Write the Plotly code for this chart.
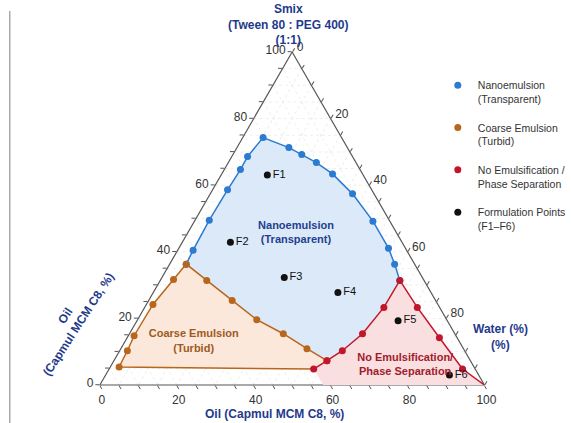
import plotly.graph_objects as go

# Components: a = Smix, b = Oil, c = Water  (all in %)
# Nanoemulsion boundary: from coarse-region apex, over the top, to phase-separation apex
nano_edge_a = [36.3, 40.5, 49.5, 58.6, 64.7, 68.6, 74.3, 71.3, 69.2, 66.8, 63.4, 57.4, 49.2, 41.1, 36.3, 31.4]
nano_edge_b = [59.4, 55.5, 46.8, 37.5, 31.1, 27.3, 20.4, 15.2, 12.9, 10.3, 7.8, 5.6, 4.4, 4.4, 5.2, 6.3]
nano_edge_c = [4.3, 4.0, 3.7, 3.9, 4.2, 4.1, 5.3, 13.5, 17.9, 22.9, 28.8, 37.0, 46.4, 54.5, 58.5, 62.3]

# Coarse emulsion: left side (apex -> bottom-left corner)
coarse_left_a = [36.3, 31.7, 24.2, 14.8, 10.3, 5.4]
coarse_left_b = [59.4, 65.0, 74.1, 83.7, 87.7, 92.3]
coarse_left_c = [4.3, 3.3, 1.7, 1.5, 2.0, 2.3]

# Coarse emulsion: upper side (apex -> junction with phase-separation region)
coarse_upper_a = [36.3, 31.4, 25.4, 19.6, 15.4, 10.9, 7.3]
coarse_upper_b = [59.4, 56.5, 52.9, 49.4, 44.6, 40.7, 37.3]
coarse_upper_c = [4.3, 12.1, 21.7, 31.0, 40.0, 48.4, 55.4]

# Phase separation: left side (bottom corner -> junction -> apex)
sep_left_a = [4.8, 7.3, 10.3, 15.4, 23.3, 31.4]
sep_left_b = [42.0, 37.3, 31.8, 24.0, 14.5, 6.3]
sep_left_c = [53.2, 55.4, 57.9, 60.6, 62.2, 62.3]

# Phase separation: right side (apex -> water vertex)
sep_right_a = [31.4, 23.3, 14.2, 4.8, 0.0]
sep_right_b = [6.3, 5.8, 4.6, 3.3, 0.0]
sep_right_c = [62.3, 70.9, 81.2, 91.9, 100.0]

# Phase separation: point on the base
sep_base_a = [0.0]
sep_base_b = [41.9]
sep_base_c = [58.1]

# Formulation points
form_names = ["F1", "F2", "F3", "F4", "F5", "F6"]
form_a = [63.1, 42.9, 32.3, 27.8, 19.3, 3.0]
form_b = [24.9, 44.6, 35.9, 24.2, 12.8, 7.6]
form_c = [12.0, 12.5, 31.8, 48.0, 67.9, 89.4]

# Region labels
region_names = ["Nanoemulsion<br>(Transparent)", "Coarse Emulsion<br>(Turbid)",
                "No Emulsification/<br>Phase Separation"]
region_a = [45.6, 13.0, 6.0]
region_b = [26.2, 69.1, 17.6]
region_c = [28.2, 17.9, 76.4]

legend_names = ["Nanoemulsion<br>(Transparent)", "Coarse Emulsion<br>(Turbid)",
                "No Emulsification /<br>Phase Separation", "Formulation Points<br>(F1\u2013F6)"]

tick_vals = list(range(0, 101, 5))
tick_text = [str(v) if v % 20 == 0 else "" for v in tick_vals]

BLUE, ORANGE, RED = "#2a7bd1", "#b8661c", "#c3152c"
FONT = "Liberation Sans, Arial, sans-serif"


def rev(x):
    return list(reversed(x))


fig = go.Figure()

# --- fills ---
fig.add_trace(go.Scatterternary(
    a=nano_edge_a + rev(sep_left_a)[1:5] + rev(coarse_upper_a)[1:],
    b=nano_edge_b + rev(sep_left_b)[1:5] + rev(coarse_upper_b)[1:],
    c=nano_edge_c + rev(sep_left_c)[1:5] + rev(coarse_upper_c)[1:],
    mode="lines", fill="toself", fillcolor="#dce9f8", line=dict(width=0),
    showlegend=False, hoverinfo="skip"))
fig.add_trace(go.Scatterternary(
    a=coarse_left_a + sep_left_a[:1] + rev(coarse_upper_a),
    b=coarse_left_b + sep_left_b[:1] + rev(coarse_upper_b),
    c=coarse_left_c + sep_left_c[:1] + rev(coarse_upper_c),
    mode="lines", fill="toself", fillcolor="#fce8da", line=dict(width=0),
    showlegend=False, hoverinfo="skip"))
fig.add_trace(go.Scatterternary(
    a=sep_left_a + sep_right_a[1:] + sep_base_a,
    b=sep_left_b + sep_right_b[1:] + sep_base_b,
    c=sep_left_c + sep_right_c[1:] + sep_base_c,
    mode="lines", fill="toself", fillcolor="#f9dfe0", line=dict(width=0),
    showlegend=False, hoverinfo="skip"))

# --- boundary lines ---
fig.add_trace(go.Scatterternary(
    a=nano_edge_a, b=nano_edge_b, c=nano_edge_c, mode="lines",
    line=dict(color=BLUE, width=1.5), showlegend=False, hoverinfo="skip"))
fig.add_trace(go.Scatterternary(
    a=rev(coarse_upper_a) + coarse_left_a[1:] + sep_left_a[:1],
    b=rev(coarse_upper_b) + coarse_left_b[1:] + sep_left_b[:1],
    c=rev(coarse_upper_c) + coarse_left_c[1:] + sep_left_c[:1],
    mode="lines", line=dict(color=ORANGE, width=1.5), showlegend=False, hoverinfo="skip"))
fig.add_trace(go.Scatterternary(
    a=sep_left_a + sep_right_a[1:], b=sep_left_b + sep_right_b[1:], c=sep_left_c + sep_right_c[1:],
    mode="lines", line=dict(color=RED, width=1.5), showlegend=False, hoverinfo="skip"))

# --- boundary markers (legend entries) ---
fig.add_trace(go.Scatterternary(
    a=nano_edge_a, b=nano_edge_b, c=nano_edge_c, mode="markers",
    marker=dict(color=BLUE, size=7), name=legend_names[0], legendgroup="g1"))
fig.add_trace(go.Scatterternary(
    a=coarse_upper_a + coarse_left_a[1:], b=coarse_upper_b + coarse_left_b[1:],
    c=coarse_upper_c + coarse_left_c[1:], mode="markers",
    marker=dict(color=ORANGE, size=7), name=legend_names[1], legendgroup="g2"))
fig.add_trace(go.Scatterternary(
    a=sep_left_a + sep_right_a[1:-1], b=sep_left_b + sep_right_b[1:-1],
    c=sep_left_c + sep_right_c[1:-1], mode="markers",
    marker=dict(color=RED, size=7), name=legend_names[2], legendgroup="g3"))

# --- formulations ---
fig.add_trace(go.Scatterternary(
    a=form_a, b=form_b, c=form_c, mode="markers+text", text=form_names,
    textposition="middle right", textfont=dict(size=11, color="#111", family=FONT),
    marker=dict(color="#111", size=7), name=legend_names[3], legendgroup="g4"))

# --- region labels ---
fig.add_trace(go.Scatterternary(
    a=region_a, b=region_b, c=region_c, mode="text", text=region_names,
    textfont=dict(size=11, color=["#233f8f", "#9c5a22", "#a01c2c"], family=FONT, weight="bold"),
    showlegend=False, hoverinfo="skip"))

axis_common = dict(
    tickvals=tick_vals, ticks="outside", ticklen=4, tickcolor="#555", tickwidth=1,
    linecolor="#555", linewidth=1.2, showgrid=True, gridcolor="#eeeeee", griddash="dot",
    gridwidth=1, tickfont=dict(size=12, color="#333", family=FONT), layer="below traces",
    title=dict(text=""))

fig.update_layout(
    width=571, height=423, margin=dict(l=0, r=0, t=0, b=0),
    paper_bgcolor="white", plot_bgcolor="white",
    font=dict(family=FONT, color="#333"),
    ternary=dict(
        sum=100, bgcolor="white",
        domain=dict(x=[0.1745, 0.8745], y=[0.0898, 0.8771]),
        aaxis=dict(axis_common, ticktext=tick_text),
        baxis=dict(axis_common, ticktext=rev(tick_text)),
        caxis=dict(axis_common, ticktext=tick_text[:-1] + [""]),
    ),
    legend=dict(x=0.786, y=0.83, xanchor="left", yanchor="top", valign="top",
                font=dict(size=10.5, color="#333", family=FONT), tracegroupgap=12,
                bgcolor="rgba(0,0,0,0)"),
    shapes=[dict(type="line", xref="paper", yref="paper", x0=10 / 571, x1=10 / 571,
                 y0=0, y1=1 - 11 / 423, line=dict(color="#aaaaaa", width=1.5))],
)

TITLE = dict(size=12, color="#1f3a8c", family=FONT, weight="bold")
fig.add_annotation(x=296 / 571, y=1 - 25 / 423, xref="paper", yref="paper",
                   text="Smix<br>(Tween 80 : PEG 400)<br>(1:1)", showarrow=False,
                   font=TITLE, xanchor="center", yanchor="middle")
fig.add_annotation(x=74 / 571, y=1 - 320 / 423, xref="paper", yref="paper",
                   text="Oil<br>(Capmul MCM C8, %)", showarrow=False, textangle=-57,
                   font=TITLE, xanchor="center", yanchor="middle")
fig.add_annotation(x=513 / 571, y=1 - 337 / 423, xref="paper", yref="paper",
                   text="Water (%)<br>(%)", showarrow=False,
                   font=TITLE, xanchor="center", yanchor="middle")
fig.add_annotation(x=281 / 571, y=1 - 414 / 423, xref="paper", yref="paper",
                   text="Oil (Capmul MCM C8, %)", showarrow=False,
                   font=TITLE, xanchor="center", yanchor="middle")

fig.write_html("out.html")
